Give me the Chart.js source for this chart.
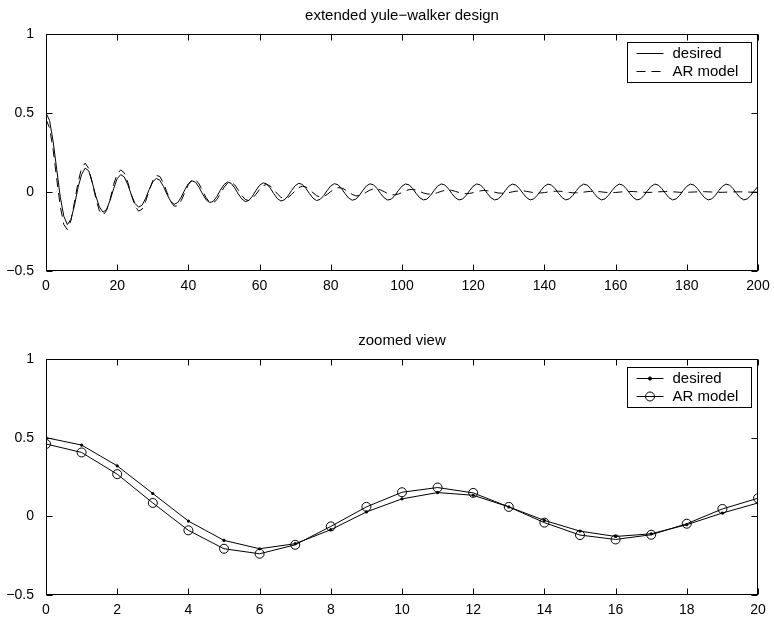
<!DOCTYPE html>
<html>
<head>
<meta charset="utf-8">
<script src="https://cdn.jsdelivr.net/npm/chart.js@4/dist/chart.umd.min.js"></script>
<style>
  body { margin: 0; background: #fff; }
  canvas { display: block; }
</style>
</head>
<body>
<canvas id="topChart" width="774" height="310"></canvas>
<canvas id="zoomChart" width="774" height="311"></canvas>
<script>
// impulse responses, sample n = 0..200
var desired = [
  0.500, 0.453, 0.321, 0.145, -0.030, -0.153, -0.206, -0.174, -0.085, 0.028, 0.111,
  0.151, 0.134, 0.060, -0.026, -0.094, -0.128, -0.111, -0.053, 0.021, 0.085,
  0.110, 0.095, 0.045, -0.019, -0.073, -0.096, -0.083, -0.040, 0.017, 0.065,
  0.086, 0.074, 0.035, -0.015, -0.058, -0.078, -0.067, -0.032, 0.014, 0.053,
  0.071, 0.062, 0.030, -0.013, -0.050, -0.067, -0.059, -0.028, 0.012, 0.047,
  0.063, 0.055, 0.026, -0.012, -0.044, -0.061, -0.053, -0.026, 0.011, 0.043,
  0.058, 0.051, 0.025, -0.011, -0.042, -0.057, -0.049, -0.024, 0.010, 0.040,
  0.055, 0.048, 0.023, -0.010, -0.039, -0.054, -0.047, -0.023, 0.010, 0.039,
  0.053, 0.046, 0.022, -0.010, -0.038, -0.052, -0.046, -0.022, 0.010, 0.038,
  0.052, 0.045, 0.022, -0.010, -0.037, -0.051, -0.045, -0.022, 0.010, 0.037,
  0.051, 0.045, 0.022, -0.010, -0.037, -0.050, -0.045, -0.022, 0.009, 0.037,
  0.051, 0.045, 0.022, -0.010, -0.037, -0.050, -0.045, -0.022, 0.009, 0.037,
  0.051, 0.045, 0.022, -0.010, -0.037, -0.050, -0.045, -0.022, 0.009, 0.037,
  0.050, 0.044, 0.021, -0.009, -0.036, -0.050, -0.044, -0.021, 0.009, 0.036,
  0.050, 0.044, 0.021, -0.009, -0.036, -0.050, -0.044, -0.021, 0.009, 0.036,
  0.050, 0.044, 0.021, -0.009, -0.036, -0.050, -0.044, -0.021, 0.009, 0.036,
  0.050, 0.044, 0.021, -0.009, -0.036, -0.050, -0.044, -0.021, 0.009, 0.036,
  0.050, 0.044, 0.021, -0.009, -0.036, -0.050, -0.044, -0.021, 0.009, 0.036,
  0.050, 0.044, 0.021, -0.009, -0.036, -0.050, -0.044, -0.021, 0.009, 0.036,
  0.050, 0.044, 0.021, -0.009, -0.036, -0.050, -0.044, -0.021, 0.009, 0.036
];
var arModel = [
  0.460, 0.406, 0.268, 0.085, -0.089, -0.206, -0.238, -0.181, -0.064, 0.060, 0.153,
  0.183, 0.149, 0.060, -0.040, -0.119, -0.147, -0.117, -0.047, 0.047, 0.115,
  0.140, 0.121, 0.060, -0.020, -0.088, -0.121, -0.109, -0.059, 0.011, 0.072,
  0.105, 0.098, 0.057, -0.003, -0.059, -0.090, -0.088, -0.054, -0.003, 0.047,
  0.077, 0.079, 0.051, 0.007, -0.037, -0.066, -0.070, -0.048, -0.010, 0.029,
  0.056, 0.062, 0.045, 0.013, -0.022, -0.048, -0.054, -0.041, -0.014, 0.017,
  0.040, 0.048, 0.038, 0.015, -0.012, -0.034, -0.042, -0.035, -0.016, 0.008,
  0.028, 0.036, 0.032, 0.016, -0.005, -0.023, -0.032, -0.029, -0.015, 0.003,
  0.019, 0.027, 0.026, 0.015, -0.001, -0.015, -0.024, -0.023, -0.014, -0.001,
  0.012, 0.020, 0.021, 0.013, 0.002, -0.010, -0.017, -0.018, -0.013, -0.003,
  0.008, 0.015, 0.016, 0.012, 0.003, -0.006, -0.012, -0.014, -0.011, -0.004,
  0.004, 0.010, 0.013, 0.010, 0.004, -0.003, -0.009, -0.011, -0.009, -0.004,
  0.002, 0.007, 0.010, 0.008, 0.004, -0.001, -0.006, -0.008, -0.008, -0.004,
  0.001, 0.005, 0.007, 0.007, 0.004, 0.000, -0.004, -0.006, -0.006, -0.004,
  0.000, 0.003, 0.005, 0.005, 0.004, 0.001, -0.003, -0.005, -0.005, -0.003,
  -0.001, 0.002, 0.004, 0.004, 0.003, 0.001, -0.002, -0.003, -0.004, -0.003,
  -0.001, 0.001, 0.003, 0.003, 0.003, 0.001, -0.001, -0.002, -0.003, -0.002,
  -0.001, 0.001, 0.002, 0.003, 0.002, 0.001, 0.000, -0.002, -0.002, -0.002,
  -0.001, 0.000, 0.001, 0.002, 0.002, 0.001, 0.000, -0.001, -0.002, -0.002,
  -0.001, 0.000, 0.001, 0.001, 0.001, 0.001, 0.000, -0.001, -0.001, -0.001
];
var seriesNames = ["desired", "AR model"];
var titles = ["extended yule\u2212walker design", "zoomed view"];
var xTicksTop = [0, 20, 40, 60, 80, 100, 120, 140, 160, 180, 200];
var xTicksZoom = [0, 2, 4, 6, 8, 10, 12, 14, 16, 18, 20];
var yTicks = [-0.5, 0, 0.5, 1];
var zoomCount = 21;

Chart.defaults.font.family = 'Arial, "Liberation Sans", Helvetica, sans-serif';
Chart.defaults.font.size = 14;
Chart.defaults.color = '#000';

function pts(arr) {
  return arr.map(function (v, i) { return { x: i, y: v }; });
}

// matlab style box, inward ticks, title and legend
var matlabBox = {
  id: 'matlabBox',
  afterDraw: function (chart) {
    var ctx = chart.ctx, a = chart.chartArea;
    var xs = chart.scales.x, ys = chart.scales.y;
    var o = chart.options.plugins.matlabBox;
    var L = Math.round(a.left) + 0.5, R = Math.round(a.right) - 0.5;
    var T = Math.round(a.top) + 0.5, B = Math.round(a.bottom) - 0.5;
    ctx.save();
    ctx.strokeStyle = '#000';
    ctx.lineWidth = 1;
    ctx.setLineDash([]);
    ctx.strokeRect(L, T, R - L, B - T);
    ctx.beginPath();
    xs.ticks.forEach(function (t) {
      var px = Math.round(xs.getPixelForValue(t.value)) + 0.5;
      ctx.moveTo(px, B); ctx.lineTo(px, B - 6);
      ctx.moveTo(px, T); ctx.lineTo(px, T + 6);
    });
    ys.ticks.forEach(function (t) {
      var py = Math.round(ys.getPixelForValue(t.value)) + 0.5;
      ctx.moveTo(L, py); ctx.lineTo(L + 6, py);
      ctx.moveTo(R, py); ctx.lineTo(R - 6, py);
    });
    ctx.stroke();

    // title
    ctx.fillStyle = '#000';
    ctx.font = '15px Arial, "Liberation Sans", Helvetica, sans-serif';
    ctx.textAlign = 'center';
    ctx.textBaseline = 'middle';
    ctx.fillText(o.title, (a.left + a.right) / 2, a.top - 18);

    // legend
    var bw = 124, bh = 40;
    var bx = Math.round(a.right) - 7 - bw + 0.5, by = Math.round(a.top) + 8 + 0.5;
    ctx.fillStyle = '#fff';
    ctx.fillRect(bx, by, bw, bh);
    ctx.strokeRect(bx, by, bw, bh);
    ctx.textAlign = 'left';
    chart.data.datasets.forEach(function (ds, i) {
      var ry = Math.round(by + 10 + i * 18) + 0.5;
      ctx.strokeStyle = ds.borderColor;
      ctx.lineWidth = ds.borderWidth;
      ctx.setLineDash(ds.borderDash || []);
      ctx.beginPath();
      ctx.moveTo(bx + 9, ry);
      ctx.lineTo(bx + 36, ry);
      ctx.stroke();
      ctx.setLineDash([]);
      if (ds.pointRadius > 0) {
        ctx.beginPath();
        ctx.arc(bx + 22.5, ry, ds.pointRadius, 0, Math.PI * 2);
        if (ds.pointBackgroundColor !== 'rgba(0,0,0,0)') {
          ctx.fillStyle = ds.pointBackgroundColor;
          ctx.fill();
        }
        ctx.strokeStyle = ds.pointBorderColor;
        ctx.lineWidth = 1;
        ctx.stroke();
      }
      ctx.fillStyle = '#000';
      ctx.fillText(ds.label, bx + 45, ry);
    });
    ctx.restore();
  }
};

function makeChart(id, n, xTicks, dsDesired, dsAR, title, topPad, xAxisH) {
  return new Chart(document.getElementById(id), {
    type: 'line',
    data: {
      datasets: [
        Object.assign({ label: seriesNames[0], data: pts(desired.slice(0, n)) }, dsDesired),
        Object.assign({ label: seriesNames[1], data: pts(arModel.slice(0, n)) }, dsAR)
      ]
    },
    options: {
      responsive: false,
      devicePixelRatio: 1,
      animation: false,
      events: [],
      layout: { padding: { top: topPad, right: 16, left: 0, bottom: 0 } },
      elements: { line: { tension: 0 } },
      plugins: {
        legend: { display: false },
        tooltip: { enabled: false },
        matlabBox: { title: title }
      },
      scales: {
        x: {
          type: 'linear',
          min: xTicks[0],
          max: xTicks[xTicks.length - 1],
          grid: { display: false },
          border: { display: false },
          afterBuildTicks: function (s) { s.ticks = xTicks.map(function (v) { return { value: v }; }); },
          afterFit: function (s) { s.height = xAxisH; s.paddingLeft = 0; s.paddingRight = 0; },
          ticks: { padding: -1, maxRotation: 0, autoSkip: false }
        },
        y: {
          min: yTicks[0],
          max: yTicks[yTicks.length - 1],
          grid: { display: false },
          border: { display: false },
          afterBuildTicks: function (s) { s.ticks = yTicks.map(function (v) { return { value: v }; }); },
          afterFit: function (s) { s.width = 46; s.paddingTop = 0; s.paddingBottom = 0; },
          ticks: {
            padding: 4,
            callback: function (v) { return String(v).replace('-', '\u2212'); }
          }
        }
      }
    },
    plugins: [matlabBox]
  });
}

makeChart('topChart', desired.length, xTicksTop,
  { borderColor: '#000', borderWidth: 1, pointRadius: 0 },
  { borderColor: '#000', borderWidth: 1, pointRadius: 0, borderDash: [9, 6] },
  titles[0], 34, 39);

makeChart('zoomChart', zoomCount, xTicksZoom,
  { borderColor: '#000', borderWidth: 1, pointRadius: 1.6, pointBackgroundColor: '#000', pointBorderColor: '#000', pointBorderWidth: 0 },
  { borderColor: '#000', borderWidth: 1, pointRadius: 4.5, pointBackgroundColor: 'rgba(0,0,0,0)', pointBorderColor: '#000', pointBorderWidth: 1 },
  titles[1], 49, 26);
</script>
</body>
</html>
